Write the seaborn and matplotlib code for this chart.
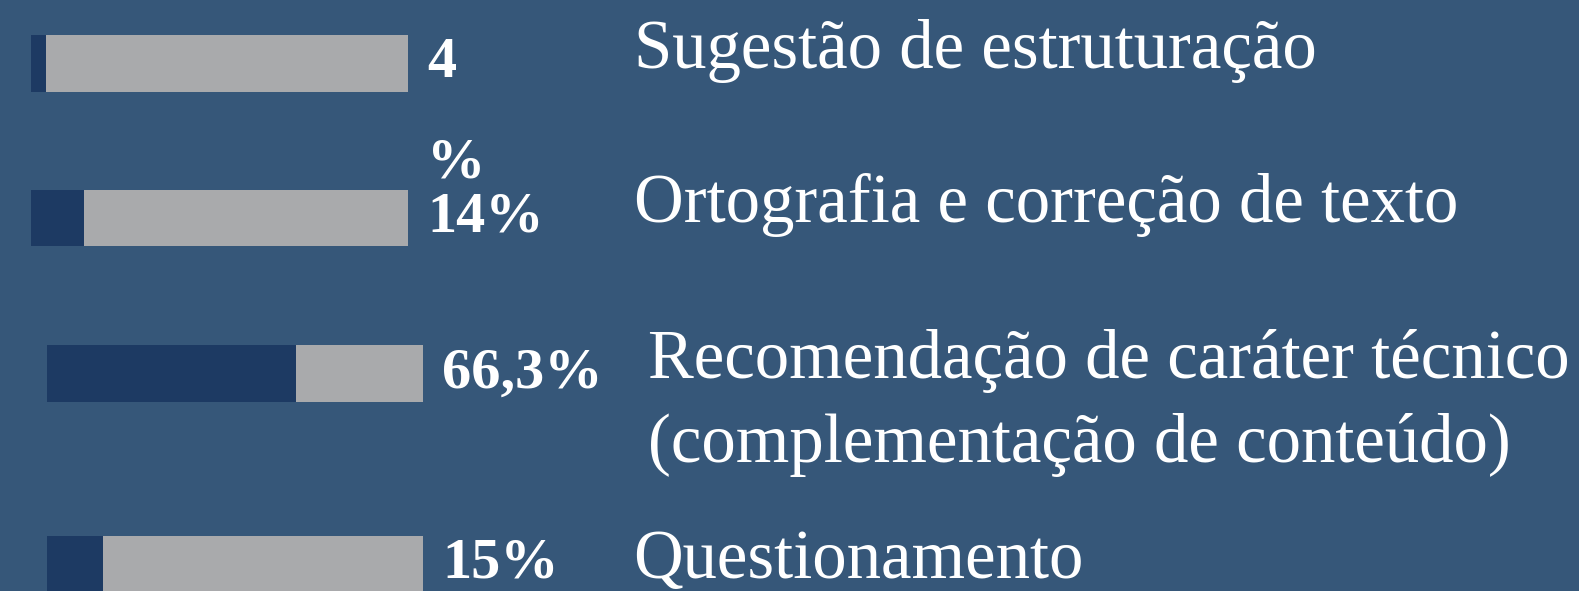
import matplotlib
matplotlib.use('Agg')
import matplotlib.pyplot as plt
from matplotlib.transforms import offset_copy, blended_transform_factory
import pandas as pd
import seaborn as sns

# Dati (percentuali)
categorie = ['Sugestão de estruturação',
             'Ortografia e correção de texto',
             'Recomendação de caráter técnico\n(complementação de conteúdo)',
             'Questionamento']
valori = [4, 14, 66.3, 15]
totali = [100, 100, 100, 100]
etichette = ['4\n%', '14%', '66,3%', '15%']

# Colori
sfondo = '#365779'
blu_scuro = '#1d3a63'
grigio = '#a9aaac'

sns.set_theme(style='white')
plt.rcParams['font.family'] = ['Liberation Serif', 'DejaVu Serif']

W, H = 1579, 591
fig = plt.figure(figsize=(W / 100, H / 100), dpi=100)
fig.patch.set_facecolor(sfondo)

# due gruppi di barre, leggermente sfalsati come nella slide
# (indici, x sinistra px, x destra px, centri barre px)
gruppi = [
    ([0, 1], 31, 408, (63.3, 218.0)),
    ([2, 3], 47, 423, (373.6, 564.0)),
]
alt_barra = 56.5  # altezza barra in px
cat_x = [634, 634, 648, 633]
cat_dy = [5, 4, 4, 14]
passo_val = 100    # interlinea etichette valori (px)
passo_cat = 84.4   # interlinea testo categorie (px)

for idx, x0, x1, (c0, c1) in gruppi:
    ax = fig.add_axes([x0 / W, 0, (x1 - x0) / W, 1])
    ax.set_facecolor('none')
    df = pd.DataFrame({
        'cat': [categorie[i] for i in idx],
        'val': [valori[i] for i in idx],
        'tot': [totali[i] for i in idx],
    })
    passo = c1 - c0
    w = alt_barra / passo
    sns.barplot(data=df, x='tot', y='cat', orient='h', color=grigio,
                saturation=1, width=w, linewidth=0, ax=ax)
    sns.barplot(data=df, x='val', y='cat', orient='h', color=blu_scuro,
                saturation=1, width=w, linewidth=0, ax=ax)
    ax.set_xlim(0, 100)
    ax.set_ylim((H - c0) / passo, -c0 / passo)
    ax.axis('off')

    tr_cat = blended_transform_factory(fig.transFigure, ax.transData)
    for j, i in enumerate(idx):
        # etichette dei valori, una riga alla volta
        for k, riga in enumerate(etichette[i].split('\n')):
            tr = offset_copy(ax.transData, fig=fig, x=19,
                             y=-14 - k * passo_val, units='dots')
            ax.text(100, j, riga, transform=tr, color='white',
                    fontsize=42, fontweight='bold', va='baseline', ha='left')
        # nomi delle categorie
        for k, riga in enumerate(categorie[i].split('\n')):
            tr = offset_copy(tr_cat, fig=fig, x=0,
                             y=-cat_dy[i] - k * passo_cat, units='dots')
            ax.text(cat_x[i] / W, j, riga, transform=tr, color='white',
                    fontsize=49.5, va='baseline', ha='left')

fig.savefig('out.png', dpi=100, facecolor=fig.get_facecolor())
